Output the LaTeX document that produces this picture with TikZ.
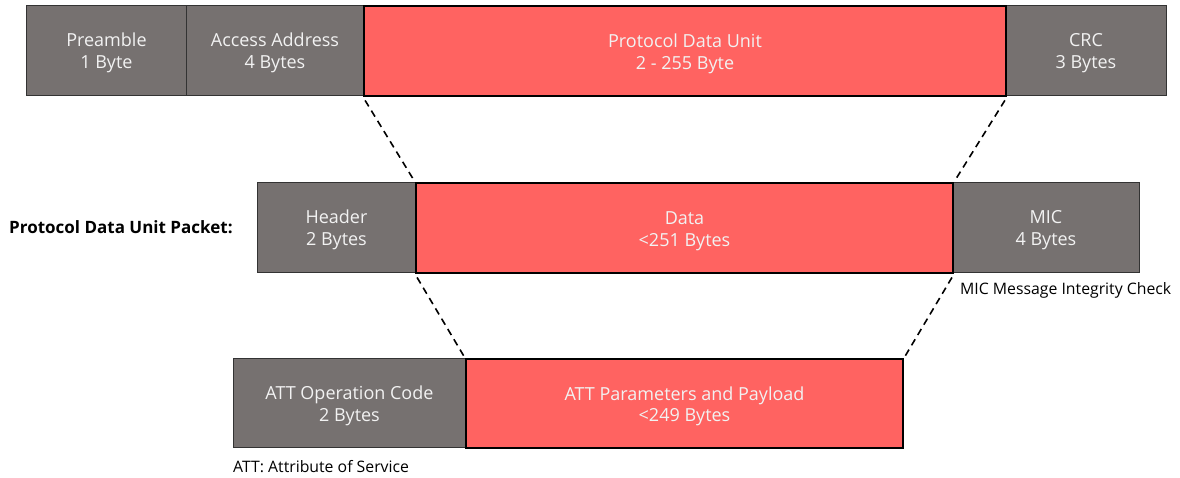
\documentclass[tikz,border=0pt]{standalone}
\usepackage{fontspec}
\setmainfont{Open Sans}
\definecolor{boxgray}{HTML}{767170}
\definecolor{boxred}{HTML}{FF6361}
\definecolor{boxtext}{HTML}{F2F2F2}
\tikzset{
  field/.style={rectangle, inner sep=0pt, anchor=north west, align=center,
    text=boxtext, font=\fontsize{18}{21.5}\selectfont},
  grayfield/.style={field, fill=boxgray, draw=black!80, line width=0.9pt},
  redfield/.style={field, fill=boxred, draw=black, line width=2pt},
  zoomline/.style={draw=black, line width=1.6pt, dash pattern=on 7pt off 5pt, shorten <=4pt, shorten >=2pt},
  note/.style={anchor=west, font=\fontsize{15.8}{18}\selectfont, text=black, inner sep=0pt},
}
\newcommand{\twolines}[2]{\raisebox{-3pt}[\height][\depth]{\begin{tabular}{@{}c@{}}#1\\#2\end{tabular}}}
\begin{document}
\begin{tikzpicture}[x=1pt,y=-1pt]
\useasboundingbox (0,0) rectangle (1180,478);
% top row
\node[grayfield, minimum width=160pt, minimum height=90pt] (pre) at (26,5) {\twolines{Preamble}{1 Byte}};
\node[grayfield, minimum width=177pt, minimum height=90pt] (aa) at (186,5) {\twolines{Access Address}{4 Bytes}};
\node[grayfield, minimum width=161pt, minimum height=90pt] (crc) at (1005,5) {\twolines{CRC}{3 Bytes}};
\node[redfield, minimum width=642pt, minimum height=90pt] (pdu) at (363,5) {\twolines{Protocol Data Unit}{2 - 255 Byte}};
% middle row
\node[anchor=west, inner sep=0pt, font=\bfseries\fontsize{17}{20}\selectfont] (lbl) at (9,227) {Protocol Data Unit Packet:};
\node[grayfield, minimum width=158pt, minimum height=90pt] (hdr) at (257,182) {\twolines{Header}{2 Bytes}};
\node[grayfield, minimum width=187pt, minimum height=90pt] (mic) at (952,182) {\twolines{MIC}{4 Bytes}};
\node[redfield, minimum width=537pt, minimum height=90pt] (data) at (415,182) {\twolines{Data}{<251 Bytes}};
\node[note] (micnote) at (960,290) {MIC Message Integrity Check};
% bottom row
\node[grayfield, minimum width=232pt, minimum height=89pt] (op) at (233,358) {\twolines{ATT Operation Code}{2 Bytes}};
\node[redfield, minimum width=437pt, minimum height=89pt] (par) at (465,358) {\twolines{ATT Parameters and Payload}{<249 Bytes}};
\node[note] (attnote) at (233,467) {ATT: Attribute of Service};
% connectors
\draw[zoomline] (pdu.south west) -- (data.north west);
\draw[zoomline] (pdu.south east) -- (data.north east);
\draw[zoomline] (data.south west) -- (par.north west);
\draw[zoomline] (data.south east) -- (par.north east);
\end{tikzpicture}
\end{document}
